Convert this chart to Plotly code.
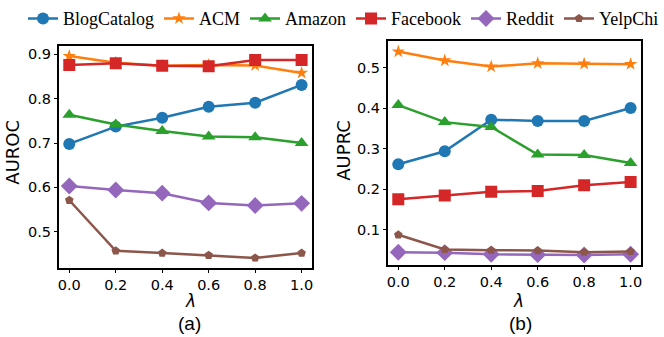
import plotly.graph_objects as go
from plotly.subplots import make_subplots

lambdas = [0.0, 0.2, 0.4, 0.6, 0.8, 1.0]
datasets = ["BlogCatalog", "ACM", "Amazon", "Facebook", "Reddit", "YelpChi"]

auroc_blogcatalog = [0.698, 0.737, 0.757, 0.782, 0.791, 0.831]
auroc_acm = [0.896, 0.881, 0.874, 0.876, 0.875, 0.858]
auroc_amazon = [0.764, 0.742, 0.727, 0.715, 0.713, 0.700]
auroc_facebook = [0.876, 0.880, 0.874, 0.873, 0.887, 0.887]
auroc_reddit = [0.603, 0.594, 0.587, 0.565, 0.559, 0.564]
auroc_yelpchi = [0.571, 0.457, 0.452, 0.447, 0.441, 0.452]

auprc_blogcatalog = [0.262, 0.294, 0.372, 0.369, 0.369, 0.401]
auprc_acm = [0.540, 0.518, 0.503, 0.511, 0.510, 0.509]
auprc_amazon = [0.408, 0.366, 0.354, 0.286, 0.285, 0.265]
auprc_facebook = [0.176, 0.185, 0.194, 0.196, 0.210, 0.218]
auprc_reddit = [0.045, 0.044, 0.040, 0.039, 0.038, 0.040]
auprc_yelpchi = [0.088, 0.052, 0.050, 0.049, 0.045, 0.047]

x_ticks = [0.0, 0.2, 0.4, 0.6, 0.8, 1.0]
x_tick_text = ["0.0", "0.2", "0.4", "0.6", "0.8", "1.0"]
auroc_ticks = [0.5, 0.6, 0.7, 0.8, 0.9]
auprc_ticks = [0.1, 0.2, 0.3, 0.4, 0.5]

W, H = 664, 337

styles = {
    "BlogCatalog": ("#1f77b4", "circle", 12),
    "ACM": ("#ff7f0e", "star", 10),
    "Amazon": ("#2ca02c", "triangle-up", 12),
    "Facebook": ("#d62728", "square", 12),
    "Reddit": ("#9467bd", "diamond", 13),
    "YelpChi": ("#8c564b", "pentagon", 9),
}

auroc = dict(zip(datasets, [auroc_blogcatalog, auroc_acm, auroc_amazon,
                            auroc_facebook, auroc_reddit, auroc_yelpchi]))
auprc = dict(zip(datasets, [auprc_blogcatalog, auprc_acm, auprc_amazon,
                            auprc_facebook, auprc_reddit, auprc_yelpchi]))

fig = make_subplots(rows=1, cols=2)

for col, values in [(1, auroc), (2, auprc)]:
    for name in datasets:
        color, symbol, size = styles[name]
        fig.add_trace(
            go.Scatter(
                x=lambdas,
                y=values[name],
                name=name,
                mode="lines+markers",
                line={"color": color, "width": 2.5},
                marker={"symbol": symbol, "size": size, "color": color},
                showlegend=(col == 1),
            ),
            row=1,
            col=col,
        )

tick_font = {"family": "DejaVu Sans", "size": 14.5, "color": "black"}
axis_common = dict(
    showline=True,
    linecolor="black",
    linewidth=1.8,
    mirror=True,
    showgrid=False,
    zeroline=False,
    ticks="outside",
    ticklen=3,
    tickwidth=1,
    tickcolor="black",
    tickfont=tick_font,
)

fig.update_xaxes(axis_common)
fig.update_yaxes(axis_common)
fig.update_xaxes(domain=[58 / W, 312 / W], range=[-0.045, 1.045],
                 tickvals=x_ticks, ticktext=x_tick_text, row=1, col=1)
fig.update_xaxes(domain=[388 / W, 642 / W], range=[-0.045, 1.045],
                 tickvals=x_ticks, ticktext=x_tick_text, row=1, col=2)
fig.update_yaxes(domain=[1 - 266 / H, 1 - 37 / H], range=[0.418, 0.919],
                 tickvals=auroc_ticks, row=1, col=1)
fig.update_yaxes(domain=[1 - 263 / H, 1 - 32 / H], range=[0.013, 0.566],
                 tickvals=auprc_ticks, row=1, col=2)

label_font = {"family": "DejaVu Sans", "size": 18, "color": "black"}
lam_font = {"family": "DejaVu Sans", "size": 17, "color": "black"}
cap_font = {"family": "Liberation Sans", "size": 19, "color": "black"}
annotations = [
    ("AUROC", 12, 146, -90, label_font),
    ("AUPRC", 344, 144, -90, label_font),
    ("<i>λ</i>", 190, 300, 0, lam_font),
    ("<i>λ</i>", 519, 300, 0, lam_font),
    ("(a)", 189, 323, 0, cap_font),
    ("(b)", 521, 323, 0, cap_font),
]
for text, px, py, angle, font in annotations:
    fig.add_annotation(
        text=text, x=px / W, y=1 - py / H, xref="paper", yref="paper",
        showarrow=False, textangle=angle, font=font,
        xanchor="center", yanchor="middle",
    )

fig.update_layout(
    width=W,
    height=H,
    template="plotly_white",
    plot_bgcolor="white",
    paper_bgcolor="white",
    margin={"l": 0, "r": 0, "t": 0, "b": 0},
    legend={
        "orientation": "h",
        "x": 25 / W,
        "y": 1 - 9 / H,
        "xanchor": "left",
        "yanchor": "middle",
        "font": {"family": "Liberation Serif", "size": 18, "color": "black"},
        "itemwidth": 30,
        "tracegroupgap": 0,
        "bgcolor": "rgba(0,0,0,0)",
    },
)

# the page body has a default 8px margin; drop it so the figure sits at 0,0
fig.write_html(
    "out.html",
    config={"displayModeBar": False},
    post_script="document.body.style.margin='0';document.body.style.overflow='hidden';",
)
